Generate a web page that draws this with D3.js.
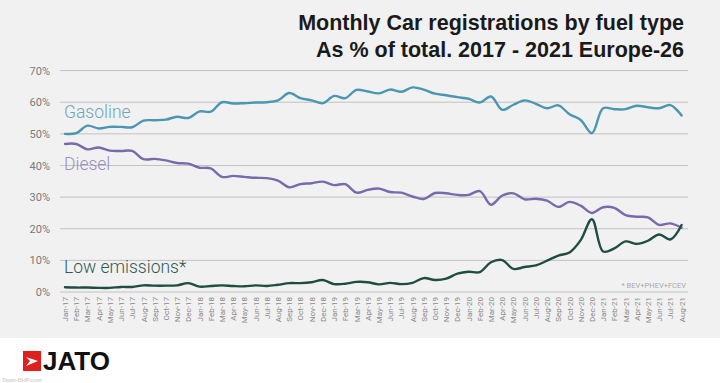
<!DOCTYPE html>
<html><head><meta charset="utf-8">
<script src="https://cdnjs.cloudflare.com/ajax/libs/d3/7.8.5/d3.min.js"></script>
<style>
html,body{margin:0;padding:0;background:#fff;}
svg{display:block;}
</style></head>
<body>
<script>
const months = ["Jan-17","Feb-17","Mar-17","Apr-17","May-17","Jun-17","Jul-17","Aug-17","Sep-17","Oct-17","Nov-17","Dec-17",
"Jan-18","Feb-18","Mar-18","Apr-18","May-18","Jun-18","Jul-18","Aug-18","Sep-18","Oct-18","Nov-18","Dec-18",
"Jan-19","Feb-19","Mar-19","Apr-19","May-19","Jun-19","Jul-19","Aug-19","Sep-19","Oct-19","Nov-19","Dec-19",
"Jan-20","Feb-20","Mar-20","Apr-20","May-20","Jun-20","Jul-20","Aug-20","Sep-20","Oct-20","Nov-20","Dec-20",
"Jan-21","Feb-21","Mar-21","Apr-21","May-21","Jun-21","Jul-21","Aug-21"];

const gasoline = [50.0,50.2,52.6,51.7,52.2,52.2,52.1,54.2,54.3,54.5,55.4,55.0,
57.1,57.0,60.0,59.6,59.7,59.9,60.0,60.6,62.9,61.3,60.6,59.7,
62.0,61.3,63.9,63.4,62.8,64.0,63.3,64.7,64.0,62.7,62.2,61.6,
61.1,59.9,61.8,57.6,59.2,60.6,59.5,58.1,59.0,56.2,54.4,50.2,
58.1,57.8,57.8,58.9,58.4,58.1,59.1,55.8];

const diesel = [46.8,46.8,45.1,45.7,44.7,44.6,44.6,42.0,42.1,41.6,40.8,40.6,
39.3,39.1,36.4,36.7,36.4,36.1,36.0,35.2,33.1,34.1,34.4,34.9,
33.8,34.1,31.4,32.3,32.7,31.6,31.4,30.2,29.4,31.3,31.2,30.7,
30.7,31.9,27.6,30.5,31.2,29.3,29.5,28.9,26.9,28.5,27.3,25.0,
26.8,26.6,24.3,23.8,23.6,21.2,21.7,20.3];

const lowEmissions = [1.5,1.4,1.4,1.3,1.3,1.6,1.6,2.1,2.0,2.0,2.1,2.8,
1.7,1.9,2.1,1.9,1.8,2.1,1.9,2.3,2.8,2.8,3.1,3.8,
2.5,2.6,3.2,3.1,2.4,2.9,2.5,2.9,4.4,3.8,4.2,5.8,
6.4,6.3,9.4,10.1,7.3,7.9,8.4,9.9,11.5,12.5,16.4,23.0,
12.8,13.8,16.0,15.2,16.2,18.2,16.6,21.2];

const yTicks = [0,10,20,30,40,50,60,70];
const seriesNames = ["Gasoline","Diesel","Low emissions*"];

const W = 720, H = 383;
const svg = d3.select("body").append("svg").attr("width", W).attr("height", H);

svg.append("rect").attr("x",0).attr("y",0).attr("width",W).attr("height",338).attr("fill","#f1f1f1");

const x = d3.scalePoint().domain(months).range([65, 681.6]);
const y = d3.scaleLinear().domain([0,70]).range([292, 70.6]);

// grid
const gridG = svg.append("g");
gridG.selectAll("line").data(yTicks).join("line")
  .attr("x1",60).attr("x2",688)
  .attr("y1",d=>y(d)).attr("y2",d=>y(d))
  .attr("stroke","#c2c2c2").attr("stroke-width",1);

// y axis labels
const yAxis = d3.axisLeft(y).tickValues(yTicks).tickFormat(d=>d+"%").tickSize(0).tickPadding(0);
const yg = svg.append("g").attr("transform","translate(50,0)").call(yAxis);
yg.select(".domain").remove();
yg.selectAll("text").attr("font-family","Roboto, 'Open Sans', sans-serif").attr("font-size","11px").attr("fill","#7a7a7a");

// x axis labels
const xAxis = d3.axisBottom(x).tickSize(0).tickPadding(0);
const xg = svg.append("g").attr("transform","translate(0,297)").call(xAxis);
xg.select(".domain").remove();
xg.selectAll("text")
  .attr("font-family","Roboto, 'Open Sans', sans-serif").attr("font-size","8px").attr("fill","#8a8a8a")
  .attr("text-anchor","end").attr("dy","0.32em").attr("y",0).attr("x",0)
  .attr("transform","rotate(-90)");

// lines
const line = d3.line().x((d,i)=>x(months[i])).y(d=>y(d)).curve(d3.curveCatmullRom.alpha(0.5));
const series = [
  {name:seriesNames[0], values:gasoline, color:"#4b96b0", label:"#6ea5bd", ly:118},
  {name:seriesNames[1], values:diesel, color:"#7a6aab", label:"#9a8fbf", ly:170},
  {name:seriesNames[2], values:lowEmissions, color:"#1f4d43", label:"#2f5a50", ly:273}
];
series.forEach(s=>{
  svg.append("path").datum(s.values).attr("d",line)
    .attr("fill","none").attr("stroke",s.color).attr("stroke-width",2.4)
    .attr("stroke-linejoin","round").attr("stroke-linecap","round");
  svg.append("text").attr("x",64).attr("y",s.ly).text(s.name)
    .attr("font-family","Roboto, 'Open Sans', sans-serif").attr("font-weight",300)
    .attr("font-size","17.5px").attr("fill",s.label);
});

// footnote
svg.append("text").attr("x",686).attr("y",288).attr("text-anchor","end")
  .text("* BEV+PHEV+FCEV").attr("font-family","Roboto, sans-serif")
  .attr("font-size","7.5px").attr("fill","#a8a8a8");

// title
const title = svg.append("text").attr("text-anchor","end")
  .attr("font-family","'Liberation Sans', Arial, sans-serif").attr("font-weight","bold")
  .attr("font-size","21.5px").attr("fill","#1a1a1a");
title.append("tspan").attr("x",684).attr("y",30).text("Monthly Car registrations by fuel type");
title.append("tspan").attr("x",684).attr("y",57).text("As % of total. 2017 - 2021 Europe-26");

// JATO logo
svg.append("rect").attr("x",23).attr("y",351).attr("width",18).attr("height",20).attr("fill","#e0201c");
svg.append("path").attr("d","M26,357 L38,361 L26,366 L30,361 Z").attr("fill","#fff");
svg.append("text").attr("x",43).attr("y",370).text("JATO")
  .attr("font-family","'Liberation Sans', Arial, sans-serif").attr("font-weight","bold")
  .attr("font-size","26px").attr("fill","#111");
svg.append("text").attr("x",2).attr("y",382).text("Team-BHP.com")
  .attr("font-family","'Liberation Sans', Arial, sans-serif").attr("font-weight","bold")
  .attr("font-size","5.5px").attr("fill","#c8c8c8").attr("opacity",0.8);
</script>
</body></html>
